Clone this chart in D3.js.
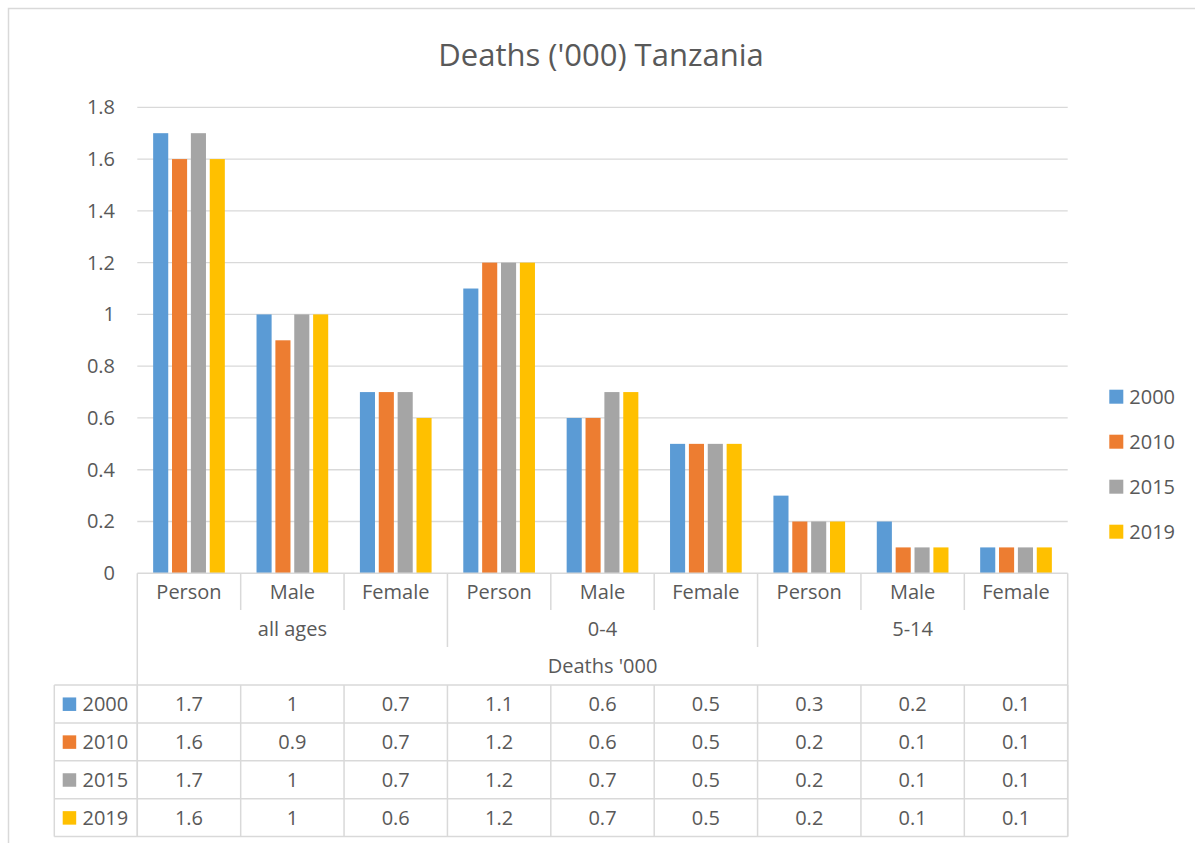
<!DOCTYPE html>
<html>
<head>
<meta charset="utf-8">
<script src="https://cdn.jsdelivr.net/npm/d3@7"></script>
<style>
  body { margin: 0; background: #fff; }
  svg { display: block; font-family: "Open Sans", sans-serif; }
  text { fill: #595959; }
</style>
</head>
<body>
<svg></svg>
<script>
// chart data
let title = "Deaths ('000) Tanzania";
let axisTitle = "Deaths '000";
let categories = ["Person", "Male", "Female", "Person", "Male", "Female", "Person", "Male", "Female"];
let ageGroups = ["all ages", "0-4", "5-14"];
let seriesNames = ["2000", "2010", "2015", "2019"];
let v2000 = [1.7, 1, 0.7, 1.1, 0.6, 0.5, 0.3, 0.2, 0.1];
let v2010 = [1.6, 0.9, 0.7, 1.2, 0.6, 0.5, 0.2, 0.1, 0.1];
let v2015 = [1.7, 1, 0.7, 1.2, 0.7, 0.5, 0.2, 0.1, 0.1];
let v2019 = [1.6, 1, 0.6, 1.2, 0.7, 0.5, 0.2, 0.1, 0.1];
let yTicks = [0, 0.2, 0.4, 0.6, 0.8, 1, 1.2, 1.4, 1.6, 1.8];
let colors = ["#5B9BD5", "#ED7D31", "#A5A5A5", "#FFC000"];

let seriesValues = [v2000, v2010, v2015, v2019];

let width = 1195;
let height = 843;
let plotLeft = 137.3, plotRight = 1067.7;
let plotTop = 107.3, plotBottom = 573.3;
let lineColor = "#D9D9D9";

let svg = d3.select('svg')
    .attr('width', width)
    .attr('height', height);

// outer chart border
svg.append('rect')
    .attr('x', 8.5).attr('y', 8.5)
    .attr('width', 1300).attr('height', 900)
    .attr('fill', '#fff')
    .attr('stroke', lineColor)
    .attr('stroke-width', 1.5);

let x0 = d3.scaleBand()
    .domain(d3.range(categories.length))
    .range([plotLeft, plotRight])
    .padding(0);

let x1 = d3.scaleBand()
    .domain(seriesNames)
    .range([0, x0.bandwidth()])
    .paddingInner(0.2)
    .paddingOuter(0.84);

let y = d3.scaleLinear()
    .domain([0, 1.8])
    .range([plotBottom, plotTop]);

// title
svg.append('text')
    .attr('x', 601)
    .attr('y', 66)
    .attr('text-anchor', 'middle')
    .style('font-size', '31px')
    .text(title);

// gridlines
svg.append('g')
    .selectAll('line')
    .data(yTicks.filter(d => d > 0))
    .enter()
    .append('line')
    .attr('x1', plotLeft).attr('x2', plotRight)
    .attr('y1', d => y(d)).attr('y2', d => y(d))
    .attr('stroke', lineColor)
    .attr('stroke-width', 1.3);

// y axis labels
let yAxis = d3.axisLeft(y)
    .tickValues(yTicks)
    .tickSize(0)
    .tickPadding(0)
    .tickFormat(d => String(+d.toFixed(1)));

let yg = svg.append('g')
    .attr('transform', 'translate(115,0)')
    .call(yAxis);
yg.select('.domain').remove();
yg.selectAll('text')
    .style('font-size', '20px')
    .style('font-family', '"Open Sans", sans-serif')
    .attr('fill', '#595959');

// bars
let bars = svg.append('g');
seriesNames.forEach((s, si) => {
    bars.append('g')
        .attr('fill', colors[si])
        .selectAll('rect')
        .data(seriesValues[si])
        .enter()
        .append('rect')
        .attr('x', (d, i) => x0(i) + x1(s))
        .attr('width', x1.bandwidth())
        .attr('y', d => y(d))
        .attr('height', d => y(0) - y(d));
});

// category axis / data table
let rowTop = 685, rowH = 37.9;
let tableLeft = 54.3;
let lines = svg.append('g').attr('stroke', lineColor).attr('stroke-width', 1.5);

let hline = (xa, xb, yy) => lines.append('line').attr('x1', xa).attr('x2', xb).attr('y1', yy).attr('y2', yy);
let vline = (xx, ya, yb) => lines.append('line').attr('x1', xx).attr('x2', xx).attr('y1', ya).attr('y2', yb);

hline(plotLeft, plotRight, plotBottom);
for (let r = 0; r <= seriesNames.length; r++) {
    hline(tableLeft, plotRight, rowTop + r * rowH);
}
let tableBottom = rowTop + seriesNames.length * rowH;
vline(tableLeft, rowTop, tableBottom);
for (let i = 0; i <= categories.length; i++) {
    let xx = i === categories.length ? plotRight : x0(i);
    let yEnd;
    if (i === 0 || i === categories.length) yEnd = tableBottom;
    else if (i % 3 === 0) yEnd = 647;
    else yEnd = 610;
    vline(xx, plotBottom, yEnd);
    vline(xx, rowTop, tableBottom);
}

// category labels
svg.append('g')
    .selectAll('text')
    .data(categories)
    .enter()
    .append('text')
    .attr('x', (d, i) => x0(i) + x0.bandwidth() / 2)
    .attr('y', 599)
    .attr('text-anchor', 'middle')
    .style('font-size', '20px')
    .text(d => d);

// age group labels
svg.append('g')
    .selectAll('text')
    .data(ageGroups)
    .enter()
    .append('text')
    .attr('x', (d, i) => x0(i * 3 + 1) + x0.bandwidth() / 2)
    .attr('y', 636)
    .attr('text-anchor', 'middle')
    .style('font-size', '20px')
    .text(d => d);

svg.append('text')
    .attr('x', (plotLeft + plotRight) / 2)
    .attr('y', 673)
    .attr('text-anchor', 'middle')
    .style('font-size', '20px')
    .text(axisTitle);

// table rows
seriesNames.forEach((s, si) => {
    let cy = rowTop + si * rowH + rowH / 2;
    let row = svg.append('g');
    row.append('rect')
        .attr('x', 62.7).attr('y', cy - 6.5)
        .attr('width', 13.5).attr('height', 13.5)
        .attr('fill', colors[si]);
    row.append('text')
        .attr('x', 82.5).attr('y', cy + 7)
        .style('font-size', '20px')
        .text(s);
    row.selectAll('text.val')
        .data(seriesValues[si])
        .enter()
        .append('text')
        .attr('class', 'val')
        .attr('x', (d, i) => x0(i) + x0.bandwidth() / 2)
        .attr('y', cy + 7)
        .attr('text-anchor', 'middle')
        .style('font-size', '20px')
        .text(d => String(d));
});

// legend
let legend = svg.append('g').attr('id', 'legend');
seriesNames.forEach((s, si) => {
    let cy = 396.7 + si * 45;
    legend.append('rect')
        .attr('x', 1109.3).attr('y', cy - 7)
        .attr('width', 14).attr('height', 14)
        .attr('fill', colors[si]);
    legend.append('text')
        .attr('x', 1129.3).attr('y', cy + 7)
        .style('font-size', '20px')
        .text(s);
});
</script>
</body>
</html>
